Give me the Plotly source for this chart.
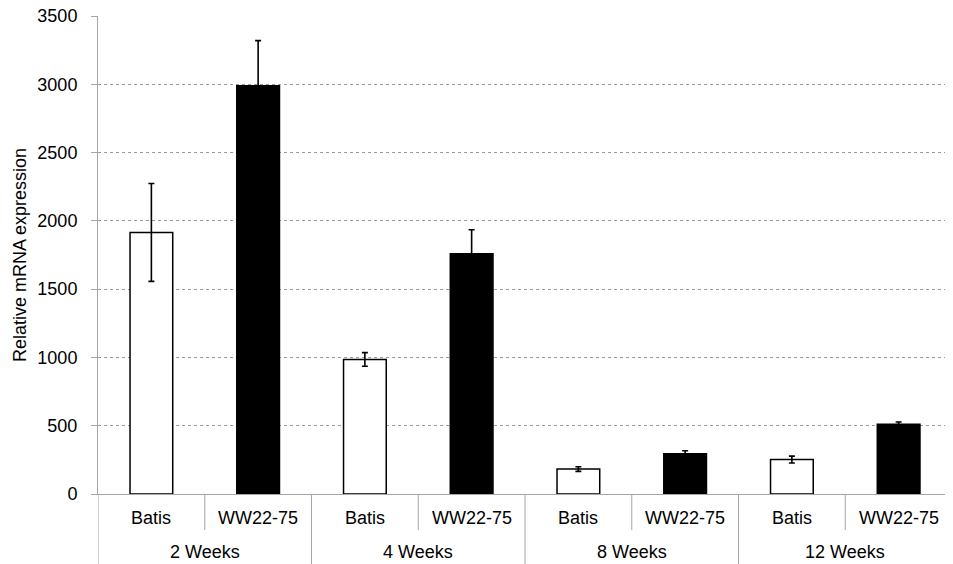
import plotly.graph_objects as go

weeks = ["2 Weeks", "2 Weeks", "4 Weeks", "4 Weeks", "8 Weeks", "8 Weeks", "12 Weeks", "12 Weeks"]
treatments = ["Batis", "WW22-75"] * 4
values = [1915, 2990, 985, 1760, 183, 295, 252, 510]
errors = [358, 330, 50, 175, 17, 22, 25, 17]
y_ticks = [0, 500, 1000, 1500, 2000, 2500, 3000, 3500]

colors = ["white" if t == "Batis" else "black" for t in treatments]
FONT = "Liberation Sans, Arial, sans-serif"
GRAY = "#a6a6a6"

# the page body has an 8px margin, so the figure is sized to fit the window
W, H = 945, 556
M_L, M_R, M_T, M_B = 90, 1, 8, 70

fig = go.Figure()
fig.add_trace(go.Bar(
    x=[weeks, treatments],
    y=values,
    width=0.4,
    marker=dict(color=colors, line=dict(color="black", width=1.5)),
    error_y=dict(type="data", array=errors, color="black", thickness=1.6, width=3),
    showlegend=False,
))

n = len(treatments)
plot_h = H - M_T - M_B
row1 = -24 / plot_h
row2 = -58 / plot_h
inner_end = -36 / plot_h
outer_end = -M_B / plot_h

for i, t in enumerate(treatments):
    fig.add_annotation(x=i, y=row1, xref="x", yref="paper", text=t, showarrow=False,
                       yanchor="middle", font=dict(family=FONT, size=18, color="black"))
groups = []
for w in weeks:
    if w not in groups:
        groups.append(w)
for g in groups:
    idx = [i for i, w in enumerate(weeks) if w == g]
    center = (idx[0] + idx[-1]) / 2
    fig.add_annotation(x=center, y=row2, xref="x", yref="paper", text=g, showarrow=False,
                       yanchor="middle", font=dict(family=FONT, size=18, color="black"))
    fig.add_shape(type="line", xref="x", yref="paper", x0=center, x1=center,
                  y0=0, y1=inner_end, line=dict(color=GRAY, width=1))
    fig.add_shape(type="line", xref="x", yref="paper", x0=idx[0] - 0.5, x1=idx[0] - 0.5,
                  y0=0, y1=outer_end, line=dict(color=GRAY, width=1))

fig.update_layout(
    width=W, height=H,
    margin=dict(l=M_L, r=M_R, t=M_T, b=M_B, autoexpand=False),
    plot_bgcolor="white", paper_bgcolor="white",
    font=dict(family=FONT, size=18, color="black"),
)
fig.update_xaxes(
    range=[-0.5, n - 0.5],
    showticklabels=False, showdividers=False,
    showline=True, linecolor=GRAY, linewidth=1,
    ticks="", automargin=False,
)
fig.update_yaxes(
    range=[0, 3500], tickvals=y_ticks,
    showgrid=True, gridcolor="#9a9a9a", griddash="dot", gridwidth=1,
    showline=True, linecolor=GRAY, linewidth=1,
    ticks="outside", ticklen=6, tickcolor=GRAY,
    ticklabelstandoff=10, ticklabeloverflow="allow",
    tickfont=dict(family=FONT, size=18, color="black"),
    title=dict(text="Relative mRNA expression", font=dict(family=FONT, size=18, color="black"), standoff=6),
    zeroline=False, automargin=False,
)
fig.write_html("out.html")
